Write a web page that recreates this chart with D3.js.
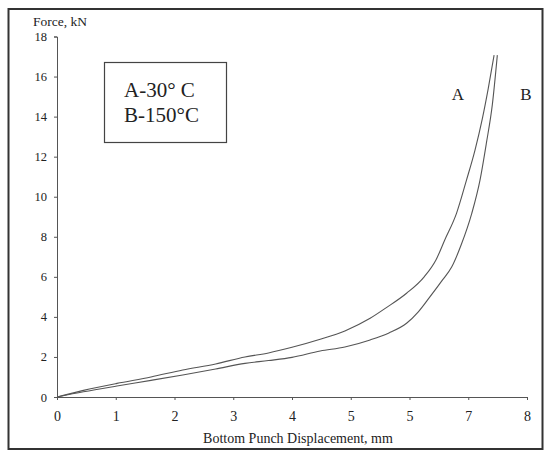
<!DOCTYPE html>
<html>
<head>
<meta charset="utf-8">
<script src="https://cdn.jsdelivr.net/npm/d3@7"></script>
<style>
  html, body { margin: 0; padding: 0; background: #fff; }
  svg { display: block; }
  text { font-family: "Liberation Serif", "Times New Roman", serif; fill: #222; }
</style>
</head>
<body>
<svg id="chart" width="552" height="454"></svg>
<script>
// ---- data ----
const xTickValues = [0, 1, 2, 3, 4, 5, 6, 7, 8];
const xTickLabels = ["0", "1", "2", "3", "4", "5", "5", "7", "8"];
const yTickValues = [0, 2, 4, 6, 8, 10, 12, 14, 16, 18];

const seriesA_x = [0, 0.45, 1.02, 1.6, 2.14, 2.7, 3.2, 3.6, 4.0, 4.48, 4.9, 5.33, 5.6, 5.95, 6.25, 6.45, 6.6, 6.8, 6.97, 7.115, 7.24, 7.34, 7.44];
const seriesA_y = [0, 0.33, 0.68, 1.0, 1.35, 1.65, 2.0, 2.2, 2.48, 2.88, 3.3, 3.93, 4.45, 5.18, 6.0, 6.84, 7.84, 9.17, 10.83, 12.33, 13.9, 15.4, 17.07];

const seriesB_x = [0, 0.45, 1.02, 1.6, 2.14, 2.7, 3.2, 3.6, 4.0, 4.48, 4.9, 5.33, 5.65, 5.95, 6.15, 6.35, 6.55, 6.72, 6.88, 7.06, 7.2, 7.31, 7.41, 7.495];
const seriesB_y = [0, 0.26, 0.55, 0.83, 1.1, 1.4, 1.68, 1.82, 1.98, 2.3, 2.5, 2.85, 3.2, 3.68, 4.25, 5.01, 5.8, 6.5, 7.6, 9.17, 10.83, 12.7, 14.6, 17.07];

const legendLines = ["A-30° C", "B-150°C"];
const curveLabels = ["A", "B"];
const xTitle = "Bottom Punch Displacement, mm";
const yTitle = "Force, kN";

// ---- drawing ----
const svg = d3.select("#chart");

// outer frame
svg.append("rect")
  .attr("x", 8.5).attr("y", 9).attr("width", 534).attr("height", 440)
  .attr("fill", "#fff").attr("stroke", "#333").attr("stroke-width", 2);

const x = d3.scaleLinear().domain([0, 8]).range([57, 527]);
const y = d3.scaleLinear().domain([0, 18]).range([397, 36.5]);

// y axis
const yAxis = svg.append("g")
  .attr("transform", `translate(${x(0)},0)`)
  .call(d3.axisLeft(y).tickValues(yTickValues).tickSize(3).tickPadding(7).tickFormat(d3.format("d")));
yAxis.attr("font-size", null).attr("font-family", null);
yAxis.select(".domain").attr("stroke", "#555");
yAxis.selectAll(".tick line").attr("stroke", "#555");
yAxis.selectAll("text").style("font-size", "12.5px").attr("fill", "#222");

// x axis
const xAxis = svg.append("g")
  .attr("transform", `translate(0,${y(0)})`)
  .call(d3.axisBottom(x).tickValues(xTickValues).tickSize(3).tickPadding(11)
    .tickFormat((d, i) => xTickLabels[i]));
xAxis.attr("font-size", null).attr("font-family", null);
xAxis.select(".domain").attr("stroke", "#555");
xAxis.selectAll(".tick line").attr("stroke", "#555");
xAxis.selectAll("text").style("font-size", "14px").attr("fill", "#222");

// axis titles
svg.append("text").attr("x", 298).attr("y", 443).attr("text-anchor", "middle")
  .style("font-size", "14px").text(xTitle);
svg.append("text").attr("x", 33).attr("y", 26).attr("text-anchor", "start")
  .style("font-size", "13.5px").text(yTitle);

// curves
const line = d3.line().x(d => x(d[0])).y(d => y(d[1])).curve(d3.curveMonotoneX);
const dataA = seriesA_x.map((v, i) => [v, seriesA_y[i]]);
const dataB = seriesB_x.map((v, i) => [v, seriesB_y[i]]);
[dataA, dataB].forEach(d => {
  svg.append("path").datum(d).attr("d", line)
    .attr("fill", "none").attr("stroke", "#555").attr("stroke-width", 1.1);
});

// curve labels
svg.append("text").attr("x", 458).attr("y", 100).attr("text-anchor", "middle")
  .style("font-size", "17px").attr("fill", "#333").text(curveLabels[0]);
svg.append("text").attr("x", 526).attr("y", 100).attr("text-anchor", "middle")
  .style("font-size", "17px").attr("fill", "#333").text(curveLabels[1]);

// legend box
svg.append("rect").attr("x", 104.5).attr("y", 62.5).attr("width", 122).attr("height", 80)
  .attr("fill", "#fff").attr("stroke", "#444").attr("stroke-width", 1.2);
legendLines.forEach((t, i) => {
  svg.append("text").attr("x", 124).attr("y", 97 + i * 25)
    .style("font-size", "21px").attr("fill", "#222").text(t);
});
</script>
</body>
</html>
